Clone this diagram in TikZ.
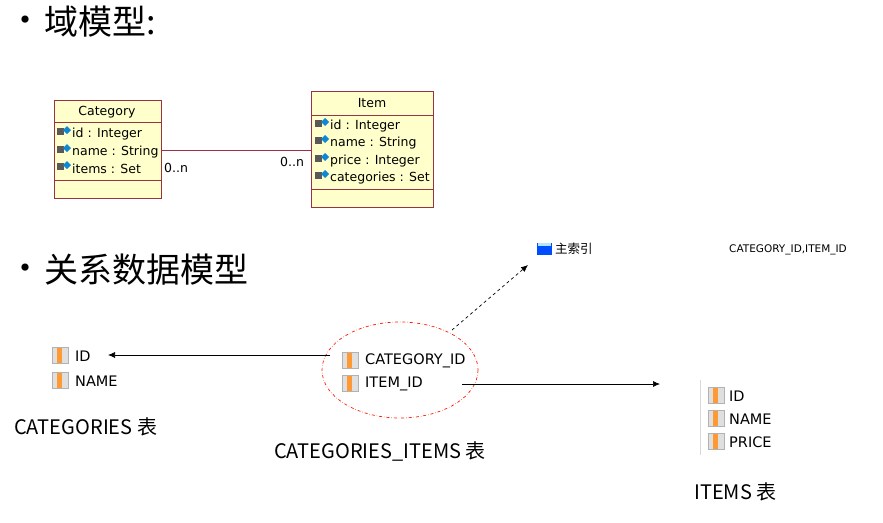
\documentclass[tikz,border=0pt]{standalone}
\usepackage{fontspec}
\setmainfont{DejaVu Sans}
\newfontfamily\cjk{Noto Sans CJK SC}
\usetikzlibrary{arrows.meta}
\definecolor{umlfill}{HTML}{FFFFCC}
\definecolor{umlline}{HTML}{993344}
\tikzset{
  uml/.style={draw=umlline, fill=umlfill, line width=0.8pt},
  attr/.style={anchor=west, inner sep=0pt, font=\fontsize{12.5}{12.5}\selectfont},
  col/.style={anchor=west, inner sep=0pt, font=\fontsize{14.5}{14.5}\selectfont},
  caption/.style={inner sep=0pt, font=\cjk\fontsize{20}{20}\selectfont},
  heading/.style={inner sep=0pt, anchor=west, font=\cjk\fontsize{34}{34}\selectfont},
  arr/.style={-{Latex[length=7pt,width=6pt]}, line width=0.7pt},
}
\newcommand{\colicon}[1]{%
  \fill[gray!25] (#1) ++(0,-8) rectangle ++(16,16);
  \fill[orange!80] (#1) ++(5,-8) rectangle ++(5,16);
  \draw[gray!60,line width=0.3pt] (#1) ++(0,-8) rectangle ++(16,16);
}
\newcommand{\lockicon}[1]{%
  \fill[gray!70!black] (#1) ++(-3,-6) rectangle ++(7,7);
  \fill[cyan!70!blue] (#1) ++(3,-4) -- ++(4,4) -- ++(4,-4) -- ++(-4,-4) -- cycle;
}
\begin{document}
\begin{tikzpicture}[x=1pt,y=-1pt]
\useasboundingbox (0,0) rectangle (883,522);
% headings
\node[heading] (b1) at (8,24) {•};
\node[heading] (h1) at (44,22) {域模型:};
\node[heading] (b2) at (8,272) {•};
\node[heading] (h2) at (44,270) {关系数据模型};
% Category
\draw[uml] (54,100) rectangle (161,198);
\draw[umlline,line width=0.8pt] (54,122) -- (161,122) (54,180) -- (161,180);
\node[attr, anchor=center] (cat) at (107,112) {Category};
\foreach \y/\t in {134/id : Integer,152/name : String,169/items : Set}{
  \lockicon{60,\y}
  \node[attr] at (72,\y) {\t};
}
% Item
\draw[uml] (311,91) rectangle (433,207);
\draw[umlline,line width=0.8pt] (311,115) -- (433,115) (311,189) -- (433,189);
\node[attr, anchor=center] (item) at (372,103) {Item};
\foreach \y/\t in {126/id : Integer,143/name : String,161/price : Integer,178/categories : Set}{
  \lockicon{318,\y}
  \node[attr] at (330,\y) {\t};
}
\coordinate (ca) at (161,150);
\coordinate (ia) at (311,150);
\draw[umlline, line width=0.8pt] (ca) -- (ia);
\node[attr] at (164,168) {0..n};
\node[attr] at (280,162) {0..n};
% CATEGORIES table
\colicon{52,355}
\node[col] (cid) at (75,356) {ID};
\colicon{52,380}
\node[col] (cname) at (75,381) {NAME};
\node[caption, anchor=west] at (14,427) {CATEGORIES 表};
\coordinate (cidp) at (108,355);
% join table
\draw[red!80!orange, dash dot, line width=0.7pt] (400,370) ellipse (78 and 48);
\colicon{342,360}
\node[col] (jcat) at (365,361) {CATEGORY\_ID};
\colicon{342,383}
\node[col] (jitem) at (365,384) {ITEM\_ID};
\node[caption] at (380,451) {CATEGORIES\_ITEMS 表};
\coordinate (jl) at (330,355);
\coordinate (jr) at (462,384);
\coordinate (jtop) at (452,330);
% index
\fill[blue!70!cyan] (537,243) rectangle (552,255);
\fill[cyan!30] (538,243) rectangle (551,246);
\node[col, font=\cjk\fontsize{12.5}{12.5}\selectfont] (idx) at (555,249) {主索引};
\node[col, font=\fontsize{10.5}{10.5}\selectfont] at (729,250) {CATEGORY\_ID,ITEM\_ID};
\coordinate (idxp) at (528,265);
% ITEMS table
\draw[gray!30, line width=0.8pt] (700,380) -- (700,455);
\colicon{708,395}
\node[col] (iid) at (729,396) {ID};
\colicon{708,418}
\node[col] at (729,419) {NAME};
\colicon{708,441}
\node[col] at (729,442) {PRICE};
\coordinate (itl) at (660,384);
\node[caption, anchor=west] at (694,492) {ITEMS 表};
% arrows
\draw[arr] (jl) -- (cidp);
\draw[arr] (jr) -- (itl);
\draw[arr, dashed] (jtop) -- (idxp);
\end{tikzpicture}
\end{document}
